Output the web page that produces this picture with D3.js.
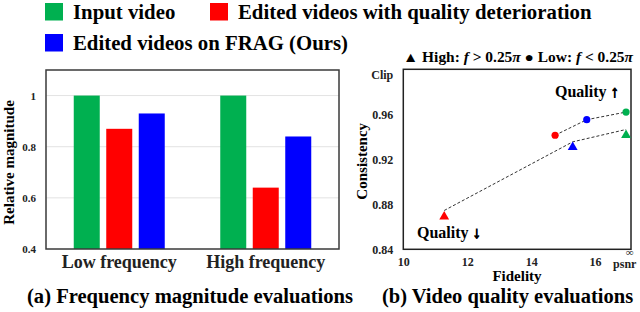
<!DOCTYPE html>
<html>
<head>
<meta charset="utf-8">
<script src="https://cdn.jsdelivr.net/npm/d3@7"></script>
<style>
  body { margin: 0; background: #fff; }
  svg { font-family: "Liberation Serif", "Times New Roman", serif; font-weight: bold; }
</style>
</head>
<body>
<div class="chart"></div>
<script>
// chart data
const groups = ['Low frequency', 'High frequency'];
const series = ['Input video', 'Edited videos with quality deterioration', 'Edited videos on FRAG (Ours)'];
const inputMag = [1, 1];
const deterMag = [0.87, 0.64];
const fragMag = [0.93, 0.84];
const magTicks = [0.4, 0.6, 0.8, 1];

// right panel: order = deterioration, FRAG, input
const lowFidelity = [14.75, 15.74, 16.97];
const lowConsistency = [0.9414, 0.9552, 0.962];
const highFidelity = [11.28, 15.3, 16.97];
const highConsistency = [0.869, 0.9307, 0.9414];
const highTrend = [0.8745, 0.9355, 0.9465];
const fidTicks = [10, 12, 14, 16];
const conTicks = [0.84, 0.88, 0.92, 0.96];

const colors = ['#00b050', '#ff0000', '#0000ff'];
const pointColors = ['#ff0000', '#0000ff', '#00b050'];

const width = 640, height = 312;
const svg = d3.select('.chart').append('svg')
    .attr('width', width)
    .attr('height', height);

// ---- legend on top
const legendPos = [[45, 3, 73, 18.7], [210, 3, 238, 18.7], [45, 34, 73, 50]];
series.forEach((s, i) => {
    const p = legendPos[i];
    svg.append('rect')
        .attr('x', p[0]).attr('y', p[1])
        .attr('width', 18).attr('height', 17.5)
        .attr('fill', colors[i]);
    svg.append('text')
        .attr('x', p[2]).attr('y', p[3])
        .attr('font-size', 20.8)
        .text(s);
});

// ---- (a) bars
const a = {left: 46, right: 339, top: 70, bottom: 249};
const x0 = d3.scaleBand().domain(groups).range([a.left, a.right]);
const x1 = d3.scaleBand().domain(series)
    .range([x0.bandwidth() / 2 - 48.75, x0.bandwidth() / 2 + 48.75])
    .paddingInner(0.2).paddingOuter(0.1);
const yA = d3.scaleLinear().domain([0.4, 1.1]).range([a.bottom, a.top]);

svg.append('g')
    .selectAll('line')
    .data([0.6, 0.8, 1])
    .join('line')
    .attr('x1', a.left).attr('x2', a.right)
    .attr('y1', d => yA(d)).attr('y2', d => yA(d))
    .attr('stroke', '#e3e3e3').attr('stroke-width', 1);

const barData = [];
groups.forEach((g, gi) => {
    [inputMag, deterMag, fragMag].forEach((vals, si) => {
        barData.push({group: g, series: series[si], value: vals[gi], color: colors[si]});
    });
});

svg.append('g')
    .selectAll('rect')
    .data(barData)
    .join('rect')
    .attr('x', d => x0(d.group) + x1(d.series))
    .attr('width', x1.bandwidth())
    .attr('y', d => yA(d.value))
    .attr('height', d => yA(0.4) - yA(d.value))
    .attr('fill', d => d.color);

svg.append('rect')
    .attr('x', a.left).attr('y', a.top)
    .attr('width', a.right - a.left).attr('height', a.bottom - a.top)
    .attr('fill', 'none').attr('stroke', '#3a3a3a').attr('stroke-width', 1.5);

// strip d3's default axis font so the serif from css applies
function plain(g, size) {
    g.attr('font-family', null).attr('font-size', null);
    g.select('.domain').remove();
    g.selectAll('text').attr('font-size', size).attr('fill', '#222');
}

const yAxisA = d3.axisLeft(yA).tickValues(magTicks).tickFormat(d3.format('')).tickSize(0).tickPadding(10);
svg.append('g')
    .attr('transform', `translate(${a.left},0)`)
    .call(yAxisA)
    .call(g => plain(g, 11));

const xAxisA = d3.axisBottom(x0).tickSize(0).tickPadding(6);
svg.append('g')
    .attr('transform', `translate(0,${a.bottom})`)
    .call(xAxisA)
    .call(g => plain(g, 18));

svg.append('text')
    .attr('transform', `translate(14,${(a.top + a.bottom) / 2 + 3}) rotate(-90)`)
    .attr('text-anchor', 'middle')
    .attr('font-size', 15)
    .text('Relative magnitude');

// ---- (b) scatter
const b = {left: 403.3, right: 631, top: 69.3, bottom: 249.3};
const xB = d3.scaleLinear().domain([10, 17.125]).range([b.left, b.right]);
const yB = d3.scaleLinear().domain([0.84, 1.0]).range([b.bottom, b.top]);

svg.append('rect')
    .attr('x', b.left).attr('y', b.top)
    .attr('width', b.right - b.left).attr('height', b.bottom - b.top)
    .attr('fill', 'none').attr('stroke', '#222').attr('stroke-width', 1.5);

const line = d3.line().x(d => xB(d[0])).y(d => yB(d[1]));
svg.append('path')
    .attr('d', line(d3.zip(lowFidelity, lowConsistency)))
    .attr('fill', 'none').attr('stroke', '#333').attr('stroke-width', 1).attr('stroke-dasharray', '3,2');
svg.append('path')
    .attr('d', line(d3.zip(highFidelity, highTrend)))
    .attr('fill', 'none').attr('stroke', '#333').attr('stroke-width', 1).attr('stroke-dasharray', '3,2');

svg.append('g')
    .selectAll('circle')
    .data(d3.zip(lowFidelity, lowConsistency))
    .join('circle')
    .attr('cx', d => xB(d[0])).attr('cy', d => yB(d[1]))
    .attr('r', 3.6)
    .attr('fill', (d, i) => pointColors[i]);

svg.append('g')
    .selectAll('path')
    .data(d3.zip(highFidelity, highConsistency))
    .join('path')
    .attr('d', d3.symbol(d3.symbolTriangle, 42))
    .attr('transform', d => `translate(${xB(d[0])},${yB(d[1])})`)
    .attr('fill', (d, i) => pointColors[i]);

const yAxisB = d3.axisLeft(yB).tickValues(conTicks).tickFormat(d3.format('.2f')).tickSize(0).tickPadding(10);
svg.append('g')
    .attr('transform', `translate(${b.left},0)`)
    .call(yAxisB)
    .call(g => plain(g, 12));

svg.append('text')
    .attr('x', b.left - 10).attr('y', yB(1) + 10)
    .attr('text-anchor', 'end').attr('font-size', 12).attr('fill', '#222')
    .text('Clip');

const xAxisB = d3.axisBottom(xB).tickValues(fidTicks).tickFormat(d3.format('d')).tickSize(0).tickPadding(8);
svg.append('g')
    .attr('transform', `translate(0,${b.bottom})`)
    .call(xAxisB)
    .call(g => plain(g, 12));

svg.append('text')
    .attr('x', xB(17.08)).attr('y', b.bottom + 7)
    .attr('text-anchor', 'middle').attr('font-size', 11).attr('font-weight', 'normal').attr('fill', '#222')
    .text('∞');
svg.append('text')
    .attr('x', xB(16.93)).attr('y', b.bottom + 19)
    .attr('text-anchor', 'middle').attr('font-size', 12).attr('fill', '#222')
    .text('psnr');

svg.append('text')
    .attr('x', 517).attr('y', 281)
    .attr('text-anchor', 'middle').attr('font-size', 15)
    .text('Fidelity');

svg.append('text')
    .attr('transform', `translate(367,${(b.top + b.bottom) / 2 + 2}) rotate(-90)`)
    .attr('text-anchor', 'middle').attr('font-size', 15)
    .text('Consistency');

const qUp = svg.append('text')
    .attr('x', 555).attr('y', 97)
    .attr('font-size', 16);
qUp.append('tspan').text('Quality ');
qUp.append('tspan').attr('stroke', '#000').attr('stroke-width', 1).text('↑');
const qDown = svg.append('text')
    .attr('x', 417).attr('y', 238)
    .attr('font-size', 16);
qDown.append('tspan').text('Quality ');
qDown.append('tspan').attr('stroke', '#000').attr('stroke-width', 1).text('↓');

// marker legend
const leg = svg.append('text')
    .attr('x', 403).attr('y', 62)
    .attr('font-size', 14)
    .attr('textLength', 230)
    .attr('lengthAdjust', 'spacingAndGlyphs');
leg.append('tspan').text('▲ High: ');
leg.append('tspan').attr('font-style', 'italic').text('f');
leg.append('tspan').text(' > 0.25');
leg.append('tspan').attr('font-style', 'italic').text('π');
leg.append('tspan').text(' ● Low: ');
leg.append('tspan').attr('font-style', 'italic').text('f');
leg.append('tspan').text(' < 0.25');
leg.append('tspan').attr('font-style', 'italic').text('π');

// captions
svg.append('text')
    .attr('x', 27).attr('y', 303)
    .attr('font-size', 20.5)
    .attr('textLength', 326)
    .attr('lengthAdjust', 'spacingAndGlyphs')
    .text('(a) Frequency magnitude evaluations');
svg.append('text')
    .attr('x', 382).attr('y', 303)
    .attr('font-size', 20.5)
    .text('(b) Video quality evaluations');
</script>
</body>
</html>
